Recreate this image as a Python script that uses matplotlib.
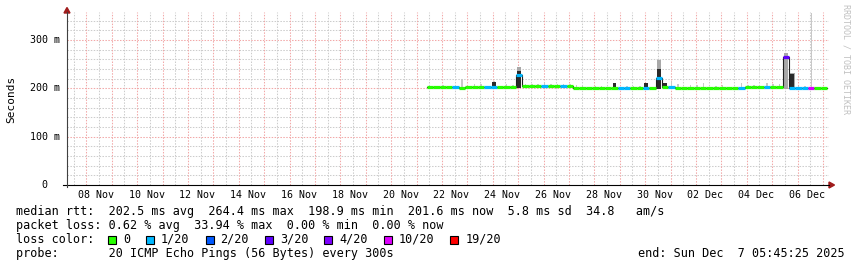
import numpy as np
import matplotlib.pyplot as plt
import matplotlib.dates as mdates
from matplotlib.patches import Polygon, Rectangle
from matplotlib.lines import Line2D
from datetime import datetime, timedelta

W, H = 857, 267
MONO = 'DejaVu Sans Mono'

# 30 day window ending at the "end:" time
end_time = datetime(2025, 12, 7, 5, 45, 25)
start_time = end_time - timedelta(days=30)

# data in 6 hour bins, first bin starts Nov 21 10:00
first_bin = datetime(2025, 11, 21, 10, 0)
bin_hours = 6

# median rtt per bin (ms)
median_ms = [202, 202, 203, 202, 202, 201, 202, 202, 202, 202, 202, 202, 203, 203,
             228,
             205, 205, 205, 205, 204, 205, 205, 205, 201,
             201, 200, 200, 200, 201, 200, 200, 200, 201, 201, 200, 201,
             222,
             202, 203, 200, 200, 200, 200, 200, 200, 200, 200, 200, 200, 200,
             203, 203, 203, 203, 203, 203,
             265,
             200, 200, 200, 201, 200, 200]

# loss class per bin (index into loss_labels)
loss_idx = [0, 0, 0, 0, 1, 0, 0, 0, 0, 1, 1, 0, 0, 0,
            1,
            0, 0, 0, 1, 0, 0, 1, 0, 0,
            0, 0, 0, 0, 0, 0, 1, 1, 0, 0, 1, 0,
            1,
            0, 1, 0, 0, 0, 0, 0, 0, 0, 0, 0, 0, 1,
            0, 0, 0, 1, 0, 0,
            3,
            1, 1, 1, 5, 0, 0]

# smoke: lowest ping per bin (ms)
smoke_lo = [200, 200, 201, 200, 200, 199, 200, 200, 200, 200, 200, 200, 201, 201,
            201,
            203, 203, 203, 203, 202, 203, 203, 203, 199,
            199, 198, 198, 198, 199, 198, 198, 198, 199, 199, 198, 199,
            199,
            199, 201, 198, 198, 198, 198, 198, 198, 198, 198, 198, 198, 198,
            201, 201, 201, 201, 201, 201,
            199,
            198, 198, 198, 199, 198, 198]

# smoke: highest ping per bin (ms)
smoke_hi = [204, 204, 206, 204, 204, 220, 204, 208, 208, 205, 216, 205, 208, 206,
            245,
            209, 209, 209, 214, 209, 209, 208, 208, 207,
            204, 203, 205, 205, 203, 211, 203, 205, 205, 205, 211, 203,
            259,
            211, 216, 208, 203, 206, 206, 212, 203, 205, 206, 203, 203, 211,
            207, 207, 205, 212, 208, 208,
            273,
            232, 205, 205, 355, 203, 203]

# smoke: top of the dense (dark) part per bin (ms), 0 = none
smoke_dark = [0, 0, 0, 0, 0, 0, 0, 0, 0, 0, 214, 0, 0, 0,
              236,
              0, 0, 0, 0, 0, 0, 0, 0, 0,
              0, 0, 0, 0, 0, 211, 0, 0, 0, 0, 211, 0,
              240,
              211, 0, 0, 0, 0, 0, 0, 0, 0, 0, 0, 0, 0,
              0, 0, 0, 0, 0, 0,
              0,
              230, 0, 0, 0, 0, 0]

loss_labels = ['0', '1/20', '2/20', '3/20', '4/20', '10/20', '19/20']
loss_colors = ['#26ff00', '#00b8ff', '#0059ff', '#5e00ff', '#7e00ff', '#dd00ff', '#ff0000']

y_ticks = [0, 100, 200, 300]
y_minor = [20, 40, 60, 80, 120, 140, 160, 180, 220, 240, 260, 280, 320, 340]
y_max = 358

rtt_line = "median rtt:  202.5 ms avg  264.4 ms max  198.9 ms min  201.6 ms now  5.8 ms sd  34.8   am/s"
loss_line = "packet loss: 0.62 % avg  33.94 % max  0.00 % min  0.00 % now"
probe_line = "probe:       20 ICMP Echo Pings (56 Bytes) every 300s"
end_line = "end: Sun Dec  7 05:45:25 2025"


def fx(px):
    return px / W


def fy(py):
    return 1 - py / H


fig = plt.figure(figsize=(W / 100, H / 100), dpi=100)
ax = fig.add_axes([fx(67), fy(185), (829 - 67) / W, (185 - 12) / H])
ax.axis('off')

t0 = mdates.date2num(start_time)
t1 = mdates.date2num(end_time)
ax.set_xlim(t0, t1)
ax.set_ylim(0, y_max)

# grid
midnights = [datetime(2025, 11, 8) + timedelta(days=k) for k in range(30)]
noons = [datetime(2025, 11, 7, 12) + timedelta(days=k) for k in range(30)]
dot = (0, (1.4, 1.4))
ax.vlines(mdates.date2num(noons), 0, y_max, colors='#cccccc', lw=0.75, linestyles=dot, zorder=0)
ax.hlines(y_minor, t0, t1, colors='#cccccc', lw=0.75, linestyles=dot, zorder=0)
ax.vlines(mdates.date2num(midnights), 0, y_max, colors='#f2a8a8', lw=0.75, linestyles=dot, zorder=1)
ax.hlines(y_ticks[1:], t0, t1, colors='#f2a8a8', lw=0.75, linestyles=dot, zorder=1)

# bins
n = len(median_ms)
edges = mdates.date2num([first_bin + timedelta(hours=bin_hours * i) for i in range(n + 1)])
centers = (edges[:-1] + edges[1:]) / 2
med = np.array(median_ms, dtype=float)
lo = np.array(smoke_lo, dtype=float)
hi = np.array(smoke_hi, dtype=float)
dark = np.array(smoke_dark, dtype=float)

# smoke: thin light columns, wider grey where spread is large, dark core
ax.bar(centers, hi - lo, bottom=lo, width=0.06, color='#c8c8c8', lw=0, zorder=2)
wide = (hi - lo > 30) & (hi < y_max - 10)
ax.bar(centers[wide], hi[wide] - lo[wide], bottom=lo[wide], width=0.18,
       color='#a8a8a8', lw=0, zorder=2)
has_dark = dark > 0
ax.bar(centers[has_dark], dark[has_dark] - lo[has_dark], bottom=lo[has_dark],
       width=0.14, color='#2a2a2a', lw=0, zorder=3)

# median: thin dark step line + loss coloured segments
ax.step(edges, np.append(med, med[-1]), where='post', color='#202020', lw=0.8, zorder=4)
seg_colors = [loss_colors[k] for k in loss_idx]
ax.hlines(med, edges[:-1], edges[1:], colors=seg_colors, lw=2.3, capstyle='butt', zorder=5)

# tick labels
for v in y_ticks:
    lab = f"{v} m" if v else "0"
    right = 60 if v else 47
    ax.text((right - 67) / (829 - 67), v, lab, transform=ax.get_yaxis_transform(),
            ha='right', va='center', family=MONO, fontsize=7.2)

label_days = [datetime(2025, 11, 8) + timedelta(days=2 * k) for k in range(15)]
for d in label_days:
    pos = mdates.date2num(d + timedelta(hours=9))
    ax.text(pos, -10 / 173, d.strftime('%d %b'), transform=ax.get_xaxis_transform(),
            ha='center', va='center', family=MONO, fontsize=7.2)

# axes and arrows
fig.add_artist(Line2D([fx(63), fx(829)], [fy(185), fy(185)], color='black', lw=0.8,
                      transform=fig.transFigure))
fig.add_artist(Line2D([fx(67), fx(67)], [fy(187), fy(12)], color='#404040', lw=0.8,
                      transform=fig.transFigure))
arrow_col = '#a01c1c'
fig.add_artist(Polygon([[fx(64), fy(13)], [fx(70), fy(13)], [fx(67), fy(7.5)]],
                       closed=True, color=arrow_col, transform=fig.transFigure))
fig.add_artist(Polygon([[fx(829), fy(182)], [fx(829), fy(188)], [fx(834.5), fy(185)]],
                       closed=True, color=arrow_col, transform=fig.transFigure))

# labels
fig.text(fx(11), fy(99.5), 'Seconds', rotation=90, ha='center', va='center',
         family=MONO, fontsize=8)
fig.text(fx(846), fy(59.5), 'RRDTOOL / TOBI OETIKER', rotation=270, ha='center', va='center',
         family=MONO, fontsize=6, color='#c0c0c0')

# legend
fs = 8.5
cw = 7.1
fig.text(fx(16), fy(211.5), rtt_line, family=MONO, fontsize=fs, va='center')
fig.text(fx(16), fy(225.5), loss_line, family=MONO, fontsize=fs, va='center')
fig.text(fx(16), fy(239.5), 'loss color:', family=MONO, fontsize=fs, va='center')
fig.text(fx(16), fy(253.5), probe_line, family=MONO, fontsize=fs, va='center')
fig.text(fx(638), fy(253.5), end_line, family=MONO, fontsize=fs, va='center')

x = 108
for lab, col in zip(loss_labels, loss_colors):
    fig.add_artist(Rectangle((fx(x), fy(243.5)), 8 / W, 8 / H, facecolor=col,
                             edgecolor='black', lw=0.8, transform=fig.transFigure))
    fig.text(fx(x + 15), fy(239.5), lab, family=MONO, fontsize=fs, va='center')
    x = x + 15 + len(lab) * cw + 16

fig.savefig('out.png', dpi=100, facecolor='white')
